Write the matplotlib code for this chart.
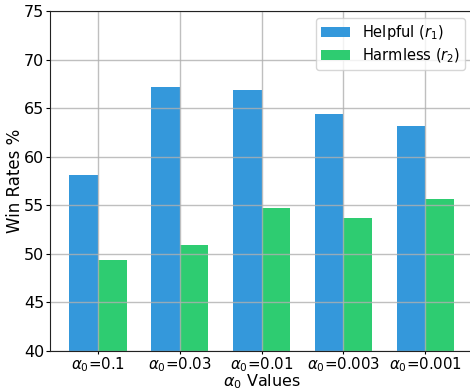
import matplotlib
matplotlib.use("Agg")
import matplotlib.pyplot as plt
import numpy as np

categories = [r"$\alpha_0$=0.1", r"$\alpha_0$=0.03", r"$\alpha_0$=0.01", r"$\alpha_0$=0.003", r"$\alpha_0$=0.001"]
helpful = [58.1, 67.2, 66.9, 64.4, 63.2]
harmless = [49.4, 50.9, 54.7, 53.7, 55.6]

fig = plt.figure(figsize=(4.7, 3.9), dpi=100)
ax = fig.add_axes([50/470, 39/390, 423/470, 340/390])

x = np.arange(len(categories))
w = 0.35
ax.bar(x - w/2, helpful, w, color="#3498db", label=r"Helpful ($r_1$)")
ax.bar(x + w/2, harmless, w, color="#2ecc71", label=r"Harmless ($r_2$)")

ax.set_ylim(40, 75)
ax.set_xticks(x)
ax.set_xticklabels(categories)
ax.tick_params(axis="x", labelsize=10.8, length=2.5, pad=0.5)
ax.tick_params(axis="y", labelsize=11.5, length=3, pad=1)
ax.set_xlabel(r"$\alpha_0$ Values", fontsize=11.5, labelpad=-1.2)
ax.set_ylabel("Win Rates %", fontsize=12, labelpad=0)
ax.grid(True, color="#b0b0b0", linewidth=1, alpha=0.8)
ax.set_axisbelow(False)
ax.spines["right"].set_visible(False)
for s in ax.spines.values():
    s.set_zorder(5)
    s.set_color("#222222")
ax.legend(loc="upper right", fontsize=10.5, bbox_to_anchor=(0.981, 0.979),
          borderaxespad=0, labelspacing=0.3, borderpad=0.35)

fig.savefig("out.png", dpi=100)
